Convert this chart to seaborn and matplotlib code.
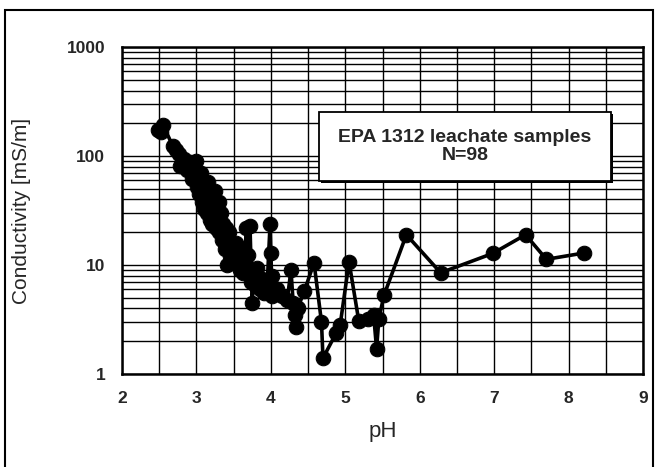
import numpy as np
import pandas as pd
import matplotlib
matplotlib.use("Agg")
import matplotlib.pyplot as plt
from matplotlib.patches import Rectangle
from matplotlib.ticker import LogLocator, MultipleLocator, FixedLocator, FixedFormatter
import seaborn as sns

# EPA 1312 leachate samples
ph = [2.48, 2.52, 2.55, 2.68, 2.72, 2.76, 2.78, 2.84, 2.88, 2.92,
      2.94, 2.97, 3.00, 3.01, 3.03, 3.05, 3.06, 3.07, 3.09, 3.10,
      3.12, 3.13, 3.14, 3.15, 3.17, 3.18, 3.20, 3.21, 3.22, 3.23,
      3.25, 3.26, 3.28, 3.30, 3.31, 3.33, 3.35, 3.36, 3.38, 3.40,
      3.41, 3.43, 3.44, 3.45, 3.47, 3.49, 3.51, 3.53, 3.55, 3.57,
      3.59, 3.61, 3.63, 3.65, 3.67, 3.69, 3.70, 3.72, 3.74, 3.75,
      3.77, 3.79, 3.82, 3.85, 3.88, 3.91, 3.95, 3.99, 4.00, 4.01,
      4.02, 4.08, 4.15, 4.22, 4.27, 4.30, 4.33, 4.34, 4.36, 4.45,
      4.58, 4.68, 4.70, 4.88, 4.93, 5.05, 5.18, 5.30, 5.38, 5.42,
      5.45, 5.52, 5.82, 6.28, 6.98, 7.42, 7.70, 8.20]
conductivity = [175, 165, 195, 125, 115, 105, 82, 95, 75, 88,
                62, 78, 90, 52, 45, 60, 70, 38, 55, 33,
                42, 50, 30, 58, 36, 26, 44, 24, 40, 32,
                48, 22, 28, 38, 20, 30, 17, 24, 14, 22,
                10, 18, 20, 12, 15, 11, 13, 16, 10.5, 12,
                9, 14, 8.5, 11, 22, 12.5, 9, 23, 7, 4.5,
                8, 6.5, 9.5, 6, 7.5, 5.5, 6.5, 24, 13, 8,
                5.2, 6, 5.2, 4.8, 9, 4.5, 3.5, 2.7, 4, 5.8,
                10.5, 3.0, 1.4, 2.4, 2.8, 10.7, 3.1, 3.2, 3.5, 1.7,
                3.2, 5.3, 19, 8.5, 12.8, 19, 11.3, 12.9]

df = pd.DataFrame({"pH": ph, "cond": conductivity})

sns.set_style("white")
plt.rcParams["font.family"] = ["Liberation Sans", "DejaVu Sans"]

fig = plt.figure(figsize=(6.59, 4.67), dpi=100)
ax = fig.add_axes([0.185, 0.199, 0.791, 0.70])

sns.lineplot(data=df, x="pH", y="cond", estimator=None, sort=True,
             color="black", linewidth=2.6, marker="o", markersize=10.5,
             markeredgecolor="black", ax=ax)

ax.set_yscale("log")
ax.set_xlim(2, 9)
ax.set_ylim(1, 1000)
ax.xaxis.set_major_locator(MultipleLocator(1))
ax.xaxis.set_minor_locator(MultipleLocator(0.5))
ax.yaxis.set_major_locator(FixedLocator([1, 10, 100, 1000]))
ax.yaxis.set_major_formatter(FixedFormatter(["1", "10", "100", "1000"]))
ax.yaxis.set_minor_locator(LogLocator(base=10, subs=np.arange(2, 10)))
ax.yaxis.set_minor_formatter(FixedFormatter([]))
ax.grid(which="both", color="black", linewidth=1.0)
ax.set_axisbelow(True)
for s in ax.spines.values():
    s.set_color("black")
    s.set_linewidth(1.8)
ax.tick_params(axis="both", which="major", labelsize=12.5, length=4, width=1.2,
               color="black", direction="out", pad=8)
ax.tick_params(axis="both", which="minor", length=0)
for lbl in ax.get_xticklabels() + ax.get_yticklabels():
    lbl.set_fontweight("bold")
ax.set_xlabel("pH", fontsize=16)
ax.set_ylabel("Conductivity [mS/m]", fontsize=15)
ax.xaxis.set_label_coords(0.5, -0.145)
ax.yaxis.set_label_coords(-0.175, 0.5)

# text box with a small drop shadow
ax.add_patch(Rectangle((0.382, 0.585), 0.56, 0.21, transform=ax.transAxes,
                       facecolor="black", edgecolor="none", zorder=4))
ax.add_patch(Rectangle((0.378, 0.592), 0.56, 0.21, transform=ax.transAxes,
                       facecolor="white", edgecolor="black", linewidth=1.3, zorder=5))
ax.text(0.658, 0.697, "EPA 1312 leachate samples\nN=98", transform=ax.transAxes,
        ha="center", va="center", fontsize=14, fontweight="bold", linespacing=1.1,
        zorder=6)

fig.patches.append(Rectangle((0.008, -0.02), 0.983, 0.998, transform=fig.transFigure,
                             fill=False, edgecolor="black", linewidth=1.5))

fig.savefig("out.png", dpi=100)
